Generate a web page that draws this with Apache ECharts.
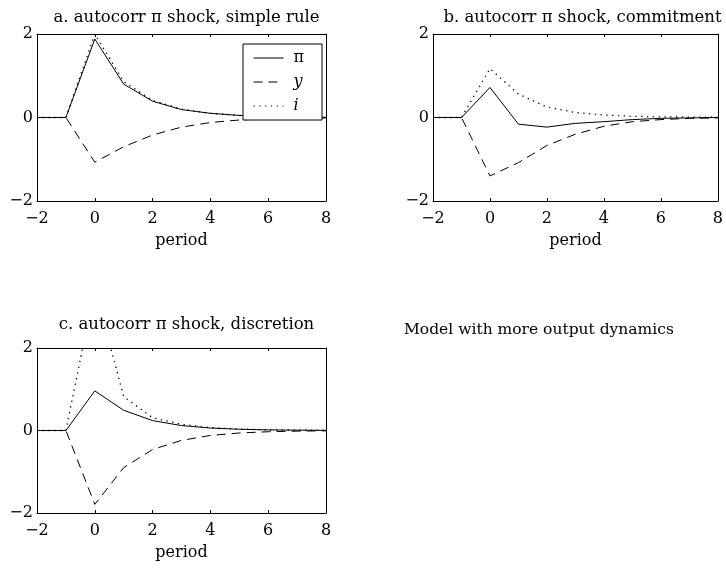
<!DOCTYPE html>
<html><head><meta charset="utf-8">
<script src="https://cdn.jsdelivr.net/npm/echarts@6/dist/echarts.min.js"></script>
<style>html,body{margin:0;padding:0;background:#fff}#c{width:726px;height:568px}</style>
</head><body><div id="c"></div>
<script>
const periods = [-2,-1,0,1,2,3,4,5,6,7,8];
const titles = ['a. autocorr π shock, simple rule','b. autocorr π shock, commitment','c. autocorr π shock, discretion'];
const xName = 'period';
const note = 'Model with more output dynamics';
const seriesNames = ['π','y','i'];

const aPi = [0,0,1.88,0.80,0.39,0.19,0.10,0.05,0.02,0.01,0.005];
const aY  = [0,0,-1.07,-0.70,-0.42,-0.23,-0.12,-0.06,-0.03,-0.015,-0.01];
const aI  = [0,0,2.00,0.86,0.41,0.20,0.10,0.05,0.025,0.012,0.006];

const bPi = [0,0,0.72,-0.16,-0.23,-0.14,-0.10,-0.05,-0.02,-0.01,0];
const bY  = [0,0,-1.40,-1.08,-0.67,-0.40,-0.21,-0.10,-0.05,-0.02,-0.01];
const bI  = [0,0,1.17,0.56,0.25,0.12,0.06,0.03,0.015,0.01,0.005];

const cPi = [0,0,0.96,0.49,0.24,0.12,0.06,0.03,0.015,0.008,0.004];
const cY  = [0,0,-1.79,-0.90,-0.46,-0.24,-0.12,-0.06,-0.03,-0.015,-0.008];
const cI  = [0,0,3.45,0.82,0.31,0.15,0.07,0.035,0.017,0.008,0.004];

const panels = [[aPi,aY,aI],[bPi,bY,bI],[cPi,cY,cI]];
const grids = [
  {left:37, top:34, width:289, height:167},
  {left:433, top:34, width:289, height:167},
  {left:37, top:348, width:289, height:165}
];
const titleTops = [4, 4, 311];
const FONT = 'DejaVu Serif';
const minus = v => String(v).replace('-', '\u2212');
const dashTypes = ['solid', [9,6], [1.3,4.5]];
const lineWidths = [1, 1, 1.3];

const xAxis = [], yAxis = [], series = [], title = [];
const tick = {inside:true, length:3, lineStyle:{color:'#000'}};
const line = {show:true, onZero:false, lineStyle:{color:'#000'}};
grids.forEach((g,gi)=>{
  xAxis.push({type:'value', gridIndex:gi, min:-2, max:8, interval:2, position:'bottom',
    name:xName, nameLocation:'middle', nameGap:32,
    nameTextStyle:{fontFamily:FONT, fontSize:16, color:'#000'},
    axisLine:line, axisTick:tick,
    axisLabel:{fontFamily:FONT, fontSize:16, color:'#000', margin:10, formatter:minus},
    splitLine:{show:false}});
  xAxis.push({type:'value', gridIndex:gi, min:-2, max:8, interval:2, position:'top',
    axisLine:line, axisTick:tick, axisLabel:{show:false}, splitLine:{show:false}});
  yAxis.push({type:'value', gridIndex:gi, min:-2, max:2, interval:2, position:'left',
    axisLine:line, axisTick:tick,
    axisLabel:{fontFamily:FONT, fontSize:16, color:'#000', margin:4, formatter:minus},
    splitLine:{show:false}});
  yAxis.push({type:'value', gridIndex:gi, min:-2, max:2, interval:2, position:'right',
    axisLine:line, axisTick:tick, axisLabel:{show:false}, splitLine:{show:false}});
  title.push({text:titles[gi], left:g.left + g.width/2, top:titleTops[gi], textAlign:'center',
    textStyle:{fontFamily:FONT, fontSize:16.5, fontWeight:'normal', color:'#000'}});
  panels[gi].forEach((arr,si)=>{
    series.push({type:'line', name:seriesNames[si], xAxisIndex:gi*2, yAxisIndex:gi*2,
      data: periods.map((p,k)=>[p, arr[k]]), symbol:'none', clip:true, silent:true,
      lineStyle:{color:'#000', width:lineWidths[si], type:dashTypes[si]}, itemStyle:{color:'#000'},
      z: 3-si});
  });
});

const chart = echarts.init(document.getElementById('c'), null, {renderer:'canvas'});
chart.setOption({
  animation:false,
  backgroundColor:'#fff',
  title,
  grid: grids.map(g=>Object.assign({containLabel:false}, g)),
  xAxis, yAxis, series,
  legend:{data:seriesNames, orient:'vertical', left:243, top:44,
    padding:[6,18,6,10], itemGap:8, itemWidth:30, itemHeight:14,
    backgroundColor:'#fff', borderColor:'#000', borderWidth:1, borderRadius:0,
    selectedMode:false,
    itemStyle:{opacity:0},
    lineStyle:{width:1},
    formatter: n => n==='π' ? '{n|'+n+'}' : '{it|'+n+'}',
    textStyle:{fontFamily:FONT, fontSize:16, color:'#000',
      rich:{n:{fontFamily:FONT, fontSize:16, padding:[0,0,0,5]},
            it:{fontStyle:'italic', fontFamily:FONT, fontSize:16, padding:[0,0,0,5]}}}
  },
  graphic:[{type:'text', left:404, top:322, style:{text:note, fontFamily:FONT, fontSize:15.5, fill:'#000'}}]
});
</script></body></html>
